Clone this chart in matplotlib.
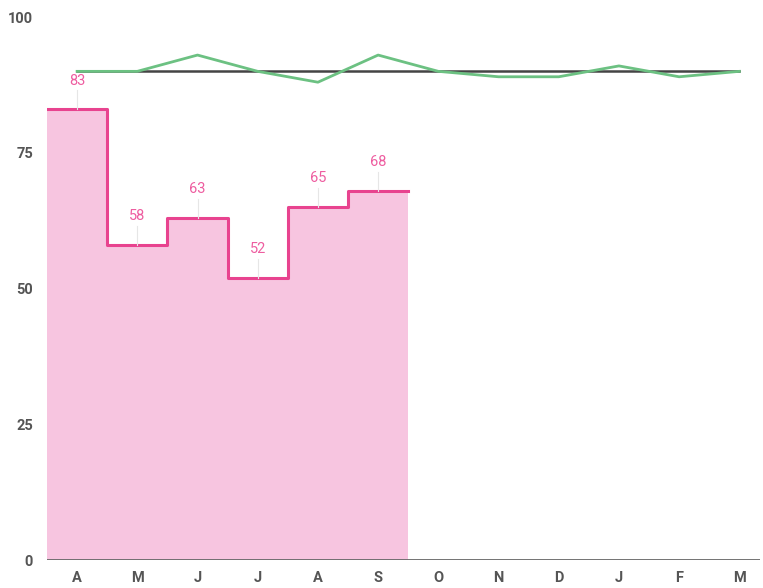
import numpy as np
import matplotlib.pyplot as plt

plt.rcParams['font.family'] = ['Roboto', 'DejaVu Sans']

maanden = ['A', 'M', 'J', 'J', 'A', 'S', 'O', 'N', 'D', 'J', 'F', 'M']
waarden = [83, 58, 63, 52, 65, 68]
groen = [90, 90, 93, 90, 88, 93, 90, 89, 89, 91, 89, 90]
doel = [90] * 12

x = np.arange(len(maanden))
xw = np.arange(len(waarden))

fig = plt.figure(figsize=(7.63, 5.88), dpi=100)
ax = fig.add_axes([0.0616, 0.0476, 0.935, 0.9234])

# gevulde trap
ax.fill_between(xw, waarden, step='mid', color='#f7c5e0', linewidth=0)
# randen van de eerste en laatste trede
xs = np.concatenate([[xw[0] - 0.5], xw, [xw[-1] + 0.5]])
ys = np.concatenate([[waarden[0]], waarden, [waarden[-1]]])
ax.fill_between(xs, ys, step='mid', color='#f7c5e0', linewidth=0)
ax.step(xs, ys, where='mid', color='#e8438f', linewidth=2.2, solid_joinstyle='round')

# labels met dunne lijntjes
for i, w in enumerate(waarden):
    ax.plot([i, i], [w, w + 3.5], color='#e6e6e6', linewidth=0.8)
    ax.text(i, w + 4.0, str(w), ha='center', va='bottom', color='#ee5da0', fontsize=10.5)

ax.plot(x, doel, color='#444444', linewidth=1.8)
ax.plot(x, groen, color='#6cc182', linewidth=2)

ax.axhline(0, color='#666666', linewidth=2)

ax.set_xlim(-0.5, 11.35)
ax.set_ylim(0, 100)
ax.set_xticks(x)
ax.set_xticklabels(maanden)
ax.set_yticks([0, 25, 50, 75, 100])
for lab in ax.get_xticklabels() + ax.get_yticklabels():
    lab.set_color('#555555')
    lab.set_fontweight('bold')
    lab.set_fontsize(10.5)
ax.tick_params(length=0, pad=8)
ax.tick_params(axis='y', pad=10)
for s in ax.spines.values():
    s.set_visible(False)

plt.savefig('out.png', dpi=100)
